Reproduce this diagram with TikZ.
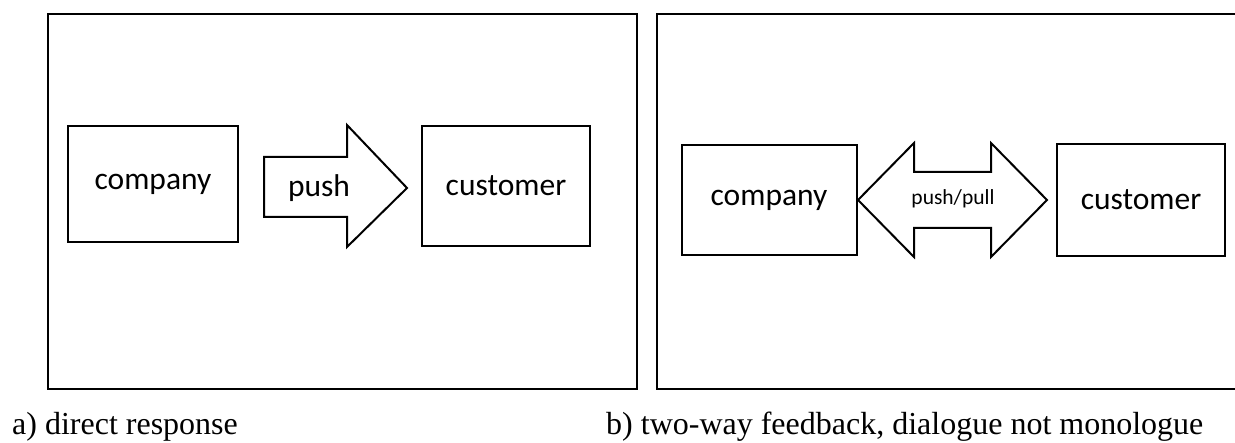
\documentclass[tikz,border=0pt]{standalone}
\usepackage{fontspec}
\setmainfont{Liberation Serif}
\newfontfamily\boxfont{Carlito}
\usetikzlibrary{calc}

\tikzset{
  party/.style={draw,line width=2pt,inner sep=0pt,font=\boxfont\fontsize{31.5}{36}\selectfont},
  frame/.style={line width=2pt},
  flow/.style={draw,line width=2pt,line join=miter},
  caption/.style={anchor=base west,inner sep=0pt,font=\fontsize{32}{38}\selectfont}
}

\begin{document}
\begin{tikzpicture}[x=1pt,y=-1pt]
	\useasboundingbox (0,0) rectangle (1235,443);
	% the two panels
	\draw[frame] (48,14) rectangle (637,389);
	\draw[frame] (1235,14) -- (657,14) -- (657,389) -- (1235,389);
	% a) one way
	\node[party,minimum width=170pt,minimum height=116pt] (compA) at (153,184) {company};
	\node[party,minimum width=168pt,minimum height=120pt] (custA) at (506,186) {customer};
	\draw[flow] (264,157) -- (347,157) -- (347,125) -- (407,188) -- (347,247) -- (347,217) -- (264,217) -- cycle;
	\node[anchor=base,font=\boxfont\fontsize{31.5}{36}\selectfont] (push) at (319,197) {push};
	% b) both ways
	\node[party,minimum width=175pt,minimum height=110pt] (compB) at (769,200) {company};
	\node[party,minimum width=168pt,minimum height=112pt] (custB) at (1141,200) {customer};
	\draw[flow] (858,200) -- (914,143) -- (914,172) -- (991,172) -- (991,143) -- (1047,200)
		-- (991,257) -- (991,228) -- (914,228) -- (914,257) -- cycle;
	\node[anchor=base,font=\boxfont\fontsize{21.5}{25}\selectfont] (pushpull) at (953,205) {push/pull};
	% captions
	\node[caption] (capA) at (12,435) {a) direct response};
	\node[caption] (capB) at (606,435) {b) two-way feedback, dialogue not monologue};
\end{tikzpicture}
\end{document}
